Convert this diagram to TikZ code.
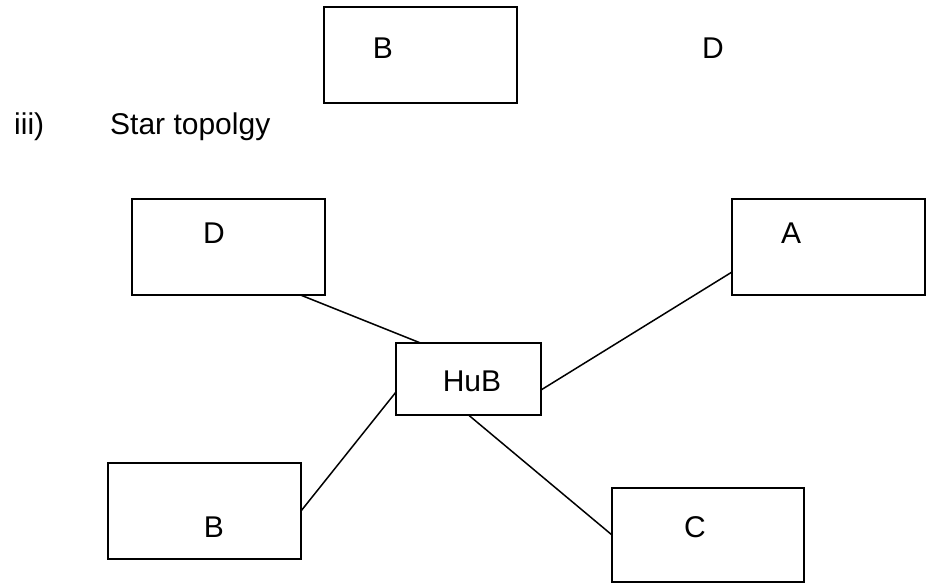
\documentclass[tikz,border=0pt]{standalone}
\usepackage{fontspec}
\setmainfont{Liberation Sans}
\usetikzlibrary{calc}

\tikzset{
  box/.style={draw=black,line width=1.5pt,rectangle,inner sep=0pt,outer sep=0pt,
    minimum width=193pt,minimum height=96pt},
  hubbox/.style={box,minimum width=145pt,minimum height=72pt},
  txt/.style={anchor=base,inner sep=0pt,font=\fontsize{30}{36}\selectfont},
  link/.style={line width=1.5pt,color=black}
}

\begin{document}
\begin{tikzpicture}[x=1pt,y=-1pt]
\useasboundingbox (0,0) rectangle (932,583);

% bus line left over from the previous figure
\node[box] (topB) at (420.5,55) {};
\node[txt] (topBtxt) at (383,59) {B};
\node[txt] (topDtxt) at (713,59) {D};

\node[txt,anchor=base west] (num) at (14,135) {iii)};
\node[txt,anchor=base west] (title) at (110,135) {Star topolgy};

% star
\node[box] (dbox) at (228.5,247) {};
\node[box] (abox) at (828.5,247) {};
\node[hubbox] (hub) at (468.5,379) {};
\node[box] (bbox) at (204.5,511) {};
\node[box,minimum width=192pt,minimum height=94pt] (cbox) at (708,535) {};

\node[txt] (dtxt) at (214,243) {D};
\node[txt] (atxt) at (791,243) {A};
\node[txt] (hubtxt) at (472,391) {HuB};
\node[txt] (btxt) at (214,537) {B};
\node[txt] (ctxt) at (695,537) {C};

\draw[link] ([xshift=72pt]dbox.south) -- ([xshift=-48pt]hub.north);
\draw[link] ([yshift=-11pt]hub.east) -- ([yshift=-25pt]abox.west);
\draw[link] (bbox.east) -- ([yshift=-13pt]hub.west);
\draw[link] (hub.south) -- (cbox.west);

\end{tikzpicture}
\end{document}
